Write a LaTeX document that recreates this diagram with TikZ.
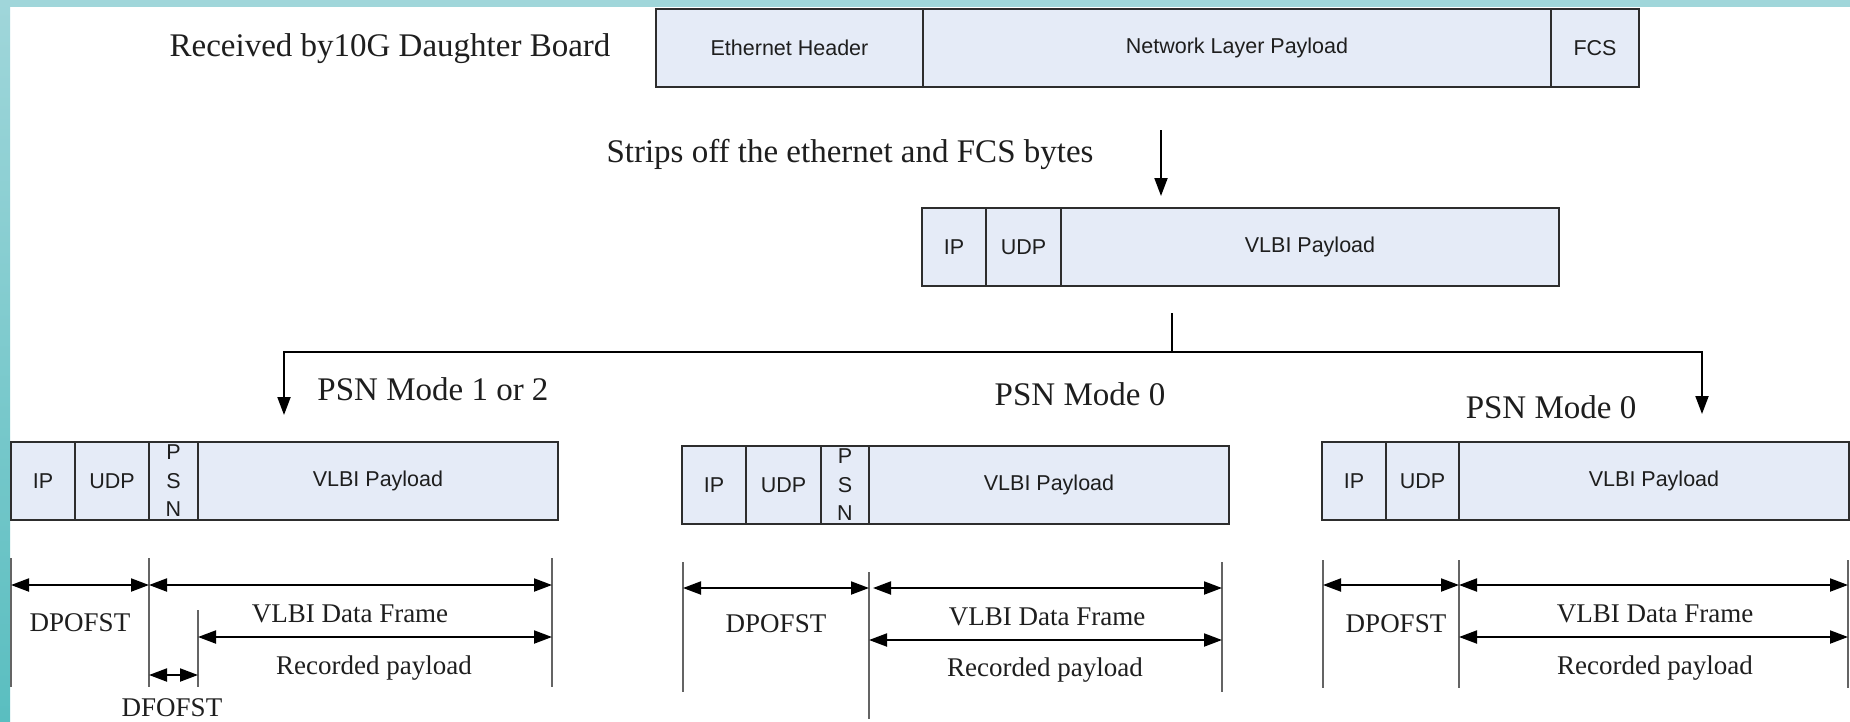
\documentclass[tikz,border=0pt]{standalone}
\usepackage{fontspec}
\setmainfont{Liberation Serif}
\newfontfamily\arialf{Liberation Sans}
\usetikzlibrary{arrows.meta}
\definecolor{boxfill}{RGB}{229,235,247}
\definecolor{boxline}{RGB}{45,45,45}
\definecolor{tickgray}{RGB}{100,100,100}
\definecolor{tealA}{RGB}{160,214,218}
\definecolor{tealB}{RGB}{90,190,192}
\definecolor{txt}{RGB}{30,30,30}
\begin{document}
\begin{tikzpicture}[x=1pt,y=-1pt,
  field/.style={draw=boxline, line width=2pt, fill=boxfill, inner sep=0pt, outer sep=0pt,
    anchor=north west, minimum height=78pt, font=\arialf\fontsize{21.5}{28.5}\selectfont, align=center, text=txt},
  big/.style={font=\fontsize{33}{40}\selectfont, anchor=base, inner sep=0pt, text=txt},
  dimlab/.style={font=\fontsize{27}{32}\selectfont, anchor=base, inner sep=0pt, text=txt},
  conn/.style={line width=2pt, draw=black},
  arr/.style={conn, -{Triangle[length=18pt,width=13pt]}},
  darr/.style={conn, {Triangle[length=18pt,width=13pt]}-{Triangle[length=18pt,width=13pt]}},
  tick/.style={line width=2pt, draw=tickgray}]

\useasboundingbox (0,0) rectangle (1850,721);
\fill[white] (0,0) rectangle (1850,721);
\shade[top color=tealA, bottom color=tealB] (0,0) rectangle (10,721);
\fill[tealA] (0,0) rectangle (1850,7);

% top frame
\node[field, minimum width=267] (eth) at (656,9) {Ethernet Header};
\node[field, minimum width=628] (nlp) at (923,9) {Network Layer Payload};
\node[field, minimum width=88] (fcs) at (1551,9) {FCS};

% stripped frame
\node[field, minimum width=64] (mip) at (922,208) {IP};
\node[field, minimum width=75] (mudp) at (986,208) {UDP};
\node[field, minimum width=498] (mpl) at (1061,208) {VLBI Payload};

% left frame
\node[field, minimum width=64] (lip) at (11,442) {IP};
\node[field, minimum width=74] (ludp) at (75,442) {UDP};
\node[field, minimum width=49] (lpsn) at (149,442) {P\\S\\N};
\node[field, minimum width=360] (lpl) at (198,442) {VLBI Payload};

% middle frame
\node[field, minimum width=64] (cip) at (682,446) {IP};
\node[field, minimum width=75] (cudp) at (746,446) {UDP};
\node[field, minimum width=48] (cpsn) at (821,446) {P\\S\\N};
\node[field, minimum width=360] (cpl) at (869,446) {VLBI Payload};

% right frame
\node[field, minimum width=64] (rip) at (1322,442) {IP};
\node[field, minimum width=73] (rudp) at (1386,442) {UDP};
\node[field, minimum width=390] (rpl) at (1459,442) {VLBI Payload};

% texts
\node[big] (recv) at (390,56) {Received by10G Daughter Board};
\node[big] (strip) at (850,162) {Strips off the ethernet and FCS bytes};
\node[big] (m12) at (433,400) {PSN Mode 1 or 2};
\node[big] (m0a) at (1080,405) {PSN Mode 0};
\node[big] (m0b) at (1551,418) {PSN Mode 0};

% connectors
\coordinate (s0) at (1161,130);
\coordinate (s1) at (1161,196);
\draw[arr] (s0) -- (s1);
\coordinate (t0) at (1172,313);
\coordinate (t1) at (1172,352);
\coordinate (a1) at (284,415);
\coordinate (a2) at (1702,414);
\draw[conn] (t0) -- (t1);
\draw[arr] (t1) -| (a1);
\draw[arr] (t1) -| (a2);

% left dimensions
\draw[tick] (11,558) -- (11,687);
\draw[tick] (149,558) -- (149,687);
\draw[tick] (198,610) -- (198,687);
\draw[tick] (552,558) -- (552,687);
\draw[darr] (11,585) -- (149,585);
\draw[darr] (149,585) -- (552,585);
\draw[darr] (198,637) -- (552,637);
\draw[darr] (149,675) -- (198,675);
\node[dimlab] (ldp) at (80,631) {DPOFST};
\node[dimlab] (ldf) at (350,622) {VLBI Data Frame};
\node[dimlab] (lrp) at (374,674) {Recorded payload};
\node[dimlab] (ldfo) at (172,716) {DFOFST};

% middle dimensions
\draw[tick] (683,562) -- (683,692);
\draw[tick] (869,572) -- (869,719);
\draw[tick] (1222,562) -- (1222,692);
\draw[darr] (683,588) -- (869,588);
\draw[darr] (873,588) -- (1222,588);
\draw[darr] (869,640) -- (1222,640);
\node[dimlab] (cdp) at (776,632) {DPOFST};
\node[dimlab] (cdf) at (1047,625) {VLBI Data Frame};
\node[dimlab] (crp) at (1045,676) {Recorded payload};

% right dimensions
\draw[tick] (1323,560) -- (1323,688);
\draw[tick] (1459,560) -- (1459,688);
\draw[tick] (1848,560) -- (1848,688);
\draw[darr] (1323,585) -- (1459,585);
\draw[darr] (1459,585) -- (1848,585);
\draw[darr] (1459,637) -- (1848,637);
\node[dimlab] (rdp) at (1396,632) {DPOFST};
\node[dimlab] (rdf) at (1655,622) {VLBI Data Frame};
\node[dimlab] (rrp) at (1655,674) {Recorded payload};
\end{tikzpicture}
\end{document}
